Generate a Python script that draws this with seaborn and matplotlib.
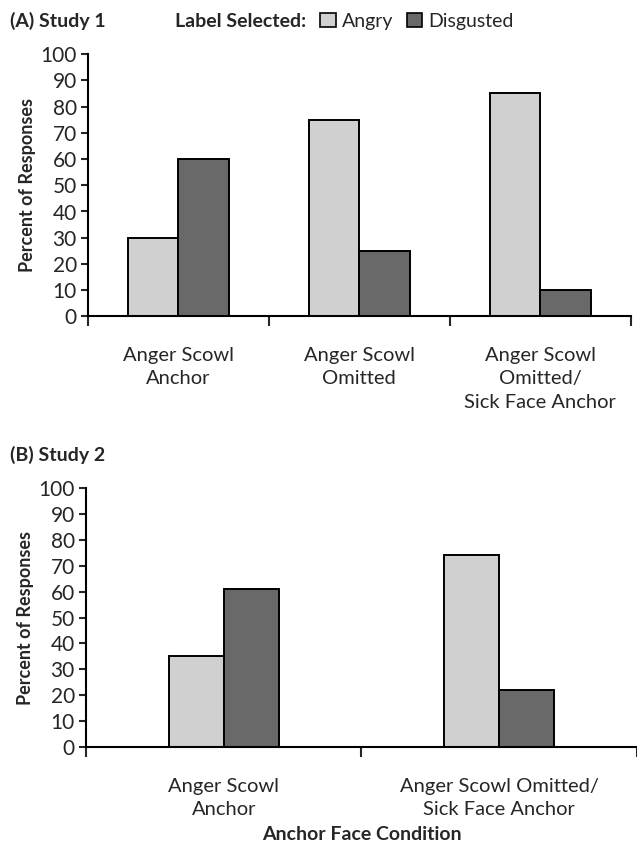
import matplotlib
matplotlib.use("Agg")
import matplotlib.pyplot as plt
import matplotlib.patches as mpatches
import pandas as pd
import seaborn as sns

sns.set_style("white")
plt.rcParams["font.family"] = ["Lato", "DejaVu Sans"]

LABELS = ["Angry", "Disgusted"]
COLORS = ["#d0d0d0", "#696969"]

STUDY1_COND = ["Anger Scowl\nAnchor", "Anger Scowl\nOmitted",
               "Anger Scowl\nOmitted/\nSick Face Anchor"]
STUDY1_ANGRY = [30, 75, 85]
STUDY1_DISGUSTED = [60, 25, 10]

STUDY2_COND = ["Anger Scowl\nAnchor", "Anger Scowl Omitted/\nSick Face Anchor"]
STUDY2_ANGRY = [35, 74]
STUDY2_DISGUSTED = [61, 22]

Y_TICKS = list(range(0, 101, 10))


def make_df(conds, angry, disgusted):
    rows = []
    for c, a, d in zip(conds, angry, disgusted):
        rows.append({"cond": c, "label": "Angry", "value": a})
        rows.append({"cond": c, "label": "Disgusted", "value": d})
    return pd.DataFrame(rows)


def draw_panel(ax, df, conds, width):
    sns.barplot(data=df, x="cond", y="value", hue="label", order=conds,
                hue_order=LABELS, palette=COLORS, width=width,
                edgecolor="black", linewidth=1.4, ax=ax, legend=False)
    n = len(conds)
    ax.set_xlim(-0.5, n - 0.5)
    ax.set_ylim(0, 100)
    ax.set_yticks(Y_TICKS)
    ax.tick_params(axis="y", labelsize=15, length=5, width=1.5, direction="out",
                   left=True, pad=3)
    ax.tick_params(axis="x", which="major", length=0, labelsize=14.5, pad=22)
    ax.set_xticks([i - 0.5 for i in range(n + 1)], minor=True)
    ax.tick_params(axis="x", which="minor", length=7, width=1.5, direction="out",
                   bottom=True)
    for lab in ax.get_xticklabels():
        lab.set_linespacing(1.45)
    for s in ["top", "right"]:
        ax.spines[s].set_visible(False)
    for s in ["left", "bottom"]:
        ax.spines[s].set_linewidth(1.5)
        ax.spines[s].set_color("black")
    ax.set_xlabel("")
    ax.set_ylabel("Percent of Responses", fontsize=13, fontweight="bold",
                  labelpad=3)


fig = plt.figure(figsize=(6.37, 8.46), dpi=100)

ax1 = fig.add_axes([0.138, 0.626, 0.852, 0.31])
draw_panel(ax1, make_df(STUDY1_COND, STUDY1_ANGRY, STUDY1_DISGUSTED),
           STUDY1_COND, 0.56)

ax2 = fig.add_axes([0.135, 0.117, 0.865, 0.306])
draw_panel(ax2, make_df(STUDY2_COND, STUDY2_ANGRY, STUDY2_DISGUSTED),
           STUDY2_COND, 0.40)
ax2.set_xlabel("Anchor Face Condition", fontsize=14, fontweight="bold",
               labelpad=6)

fig.text(0.016, 0.975, "(A) Study 1", fontsize=14, fontweight="bold",
         va="center", ha="left")
fig.text(0.016, 0.462, "(B) Study 2", fontsize=14, fontweight="bold",
         va="center", ha="left")
fig.text(0.275, 0.975, "Label Selected:", fontsize=14, fontweight="bold",
         va="center", ha="left")

handles = [mpatches.Patch(facecolor=c, edgecolor="black", linewidth=1.2, label=l)
           for c, l in zip(COLORS, LABELS)]
fig.legend(handles=handles, loc="center left", bbox_to_anchor=(0.503, 0.975),
           ncol=2, frameon=False, fontsize=14, handlelength=0.8,
           handleheight=0.8, handletextpad=0.3, columnspacing=0.7,
           borderaxespad=0, borderpad=0)

fig.savefig("out.png", dpi=100)
